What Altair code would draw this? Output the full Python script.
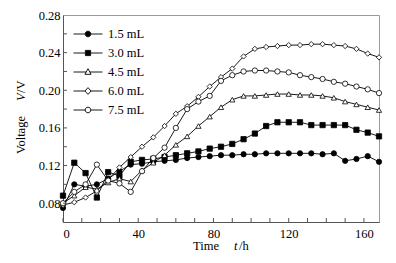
import altair as alt
import pandas as pd

time_h = [0, 6, 12, 18, 24, 30, 36, 42, 48, 54, 60, 66, 72, 78, 84, 90, 96, 102, 108, 114, 120, 126, 132, 138, 144, 150, 156, 162, 168]

v_1_5 = [0.075, 0.100, 0.098, 0.100, 0.106, 0.114, 0.121, 0.122, 0.124, 0.125, 0.126, 0.128, 0.129, 0.130, 0.131, 0.131, 0.132, 0.132, 0.133, 0.133, 0.133, 0.133, 0.133, 0.132, 0.133, 0.125, 0.127, 0.130, 0.124]
v_3_0 = [0.088, 0.123, 0.112, 0.086, 0.113, 0.109, 0.124, 0.126, 0.127, 0.129, 0.131, 0.133, 0.135, 0.138, 0.140, 0.143, 0.148, 0.154, 0.162, 0.166, 0.166, 0.166, 0.163, 0.163, 0.163, 0.163, 0.158, 0.155, 0.151]
v_4_5 = [0.080, 0.088, 0.097, 0.095, 0.102, 0.106, 0.103, 0.115, 0.123, 0.131, 0.142, 0.151, 0.162, 0.172, 0.182, 0.190, 0.194, 0.194, 0.195, 0.196, 0.196, 0.195, 0.195, 0.194, 0.192, 0.188, 0.185, 0.182, 0.179]
v_6_0 = [0.078, 0.081, 0.086, 0.093, 0.105, 0.118, 0.129, 0.140, 0.150, 0.162, 0.175, 0.183, 0.193, 0.204, 0.214, 0.223, 0.236, 0.244, 0.246, 0.247, 0.248, 0.248, 0.249, 0.249, 0.248, 0.247, 0.244, 0.239, 0.235]
v_7_5 = [0.080, 0.092, 0.100, 0.121, 0.104, 0.101, 0.092, 0.114, 0.128, 0.139, 0.160, 0.180, 0.188, 0.194, 0.210, 0.216, 0.220, 0.221, 0.221, 0.220, 0.219, 0.216, 0.214, 0.212, 0.209, 0.207, 0.204, 0.201, 0.197]

series_names = ["1.5 mL", "3.0 mL", "4.5 mL", "6.0 mL", "7.5 mL"]
series_values = [v_1_5, v_3_0, v_4_5, v_6_0, v_7_5]
plot_shapes = ["circle", "square", "triangle-up", "diamond", "circle"]
fills = ["black", "black", "white", "white", "white"]

x_labels = [0, 20, 40, 60, 80, 100, 120, 140, 160]
x_ticks = [0, 10, 20, 30, 40, 50, 60, 70, 80, 90, 100, 110, 120, 130, 140, 150, 160]
y_labels = [0.08, 0.12, 0.16, 0.20, 0.24, 0.28]
y_ticks = [0.08, 0.10, 0.12, 0.14, 0.16, 0.18, 0.20, 0.22, 0.24, 0.26]

rows = []
for name, vals in zip(series_names, series_values):
    for t, v in zip(time_h, vals):
        rows.append({"t": t, "v": v, "series": name})
df = pd.DataFrame(rows)
xt_df = pd.DataFrame({"tick": x_ticks})
yt_df = pd.DataFrame({"tick": y_ticks})
one = pd.DataFrame({"k": [0]})

# legend symbols: line + marker as custom paths (unit = sqrt(size)/2 px)
K = 9.5
def u(px):
    return round(px / K, 3)

L = 14.5
def seg(a):
    return f"M{u(-L)},0L{u(-a)},0M{u(a)},0L{u(L)},0"
r = 2.8
circle_p = f"M{u(r)},0A{u(r)},{u(r)} 0 1,1 {u(-r)},0A{u(r)},{u(r)} 0 1,1 {u(r)},0Z"
sq = 2.6
square_p = f"M{u(-sq)},{u(-sq)}L{u(sq)},{u(-sq)}L{u(sq)},{u(sq)}L{u(-sq)},{u(sq)}Z"
tri_p = f"M0,{u(-3.3)}L{u(3.1)},{u(2.3)}L{u(-3.1)},{u(2.3)}Z"
dia_p = f"M0,{u(-3.4)}L{u(3.0)},0L0,{u(3.4)}L{u(-3.0)},0Z"
legend_paths = [
    seg(r) + circle_p,
    seg(sq) + square_p,
    seg(1.8) + tri_p,
    seg(3.0) + dia_p,
    seg(r) + circle_p,
]

FONT = "Liberation Serif"
FS = 12.5
W, H = 316, 207

x_enc = alt.X("t:Q", scale=alt.Scale(domain=[0, 168], nice=False, zero=False),
              axis=alt.Axis(values=x_labels, title=None, grid=False,
                            ticks=False, labelPadding=5, labelOverlap=False))
y_enc = alt.Y("v:Q", scale=alt.Scale(domain=[0.06, 0.28], nice=False, zero=False),
              axis=alt.Axis(values=y_labels, format=".2f", title=None, grid=False,
                            ticks=False, labelPadding=3, labelOverlap=False))

base = alt.Chart(df)

lines = base.mark_line(color="black", strokeWidth=0.9).encode(
    x=x_enc, y=y_enc, detail="series:N"
)

points = base.mark_point(stroke="black", strokeWidth=0.8, size=28, opacity=1, filled=False).encode(
    x="t:Q", y="v:Q",
    shape=alt.Shape("series:N", scale=alt.Scale(domain=series_names, range=plot_shapes), legend=None),
    fill=alt.Fill("series:N", scale=alt.Scale(domain=series_names, range=fills), legend=None),
)

leg = alt.Legend(title=None, orient="none", legendX=15, legendY=9,
                 symbolSize=361, labelOffset=10, rowPadding=2, padding=0,
                 symbolStrokeWidth=0.9, symbolOpacity=1,
                 labelFont=FONT, labelFontSize=FS, labelColor="black")

legend_layer = base.transform_filter("datum.t < 0").mark_point(
    strokeWidth=0.9, opacity=1, filled=False
).encode(
    x="t:Q", y="v:Q",
    shape=alt.Shape("series:N", scale=alt.Scale(domain=series_names, range=legend_paths), legend=leg),
    fill=alt.Fill("series:N", scale=alt.Scale(domain=series_names, range=fills), legend=leg),
    stroke=alt.Stroke("series:N", scale=alt.Scale(domain=series_names, range=["black"] * 5), legend=leg),
)

x_tick_marks = alt.Chart(xt_df).mark_rule(color="#555555", strokeWidth=1).encode(
    x="tick:Q", y=alt.value(H), y2=alt.value(H - 4)
)
y_tick_marks = alt.Chart(yt_df).mark_rule(color="#555555", strokeWidth=1).encode(
    y="tick:Q", x=alt.value(0), x2=alt.value(4)
)

def label(text, x, y, italic=False, angle=0):
    kw = dict(text=text, font=FONT, fontSize=FS, color="black", align="left", baseline="middle")
    if italic:
        kw["fontStyle"] = "italic"
    if angle:
        kw["angle"] = angle
    return alt.Chart(one).mark_text(**kw).encode(x=alt.value(x), y=alt.value(y))

titles = [
    label("Time", 130, 231),
    label("t", 171, 231, italic=True),
    label("/h", 176, 231),
    label("Voltage", -42, 139, angle=270),
    label("V", -42, 86, italic=True, angle=270),
    label("/V", -42, 78, angle=270),
]

chart = alt.layer(lines, points, legend_layer, x_tick_marks, y_tick_marks, *titles).resolve_scale(
    shape="independent", fill="independent", stroke="independent"
).properties(
    width=W, height=H,
    background="white",
    autosize=alt.AutoSizeParams(type="none"),
    padding={"left": 55, "top": 7, "right": 9, "bottom": 33},
).configure_view(
    stroke="#9a9a9a", strokeWidth=1
).configure_axis(
    labelFont=FONT, labelFontSize=FS, labelColor="black",
    domainColor="#555555", domainWidth=1,
)

chart.save("out.html", embed_options={"renderer": "svg", "actions": False})
